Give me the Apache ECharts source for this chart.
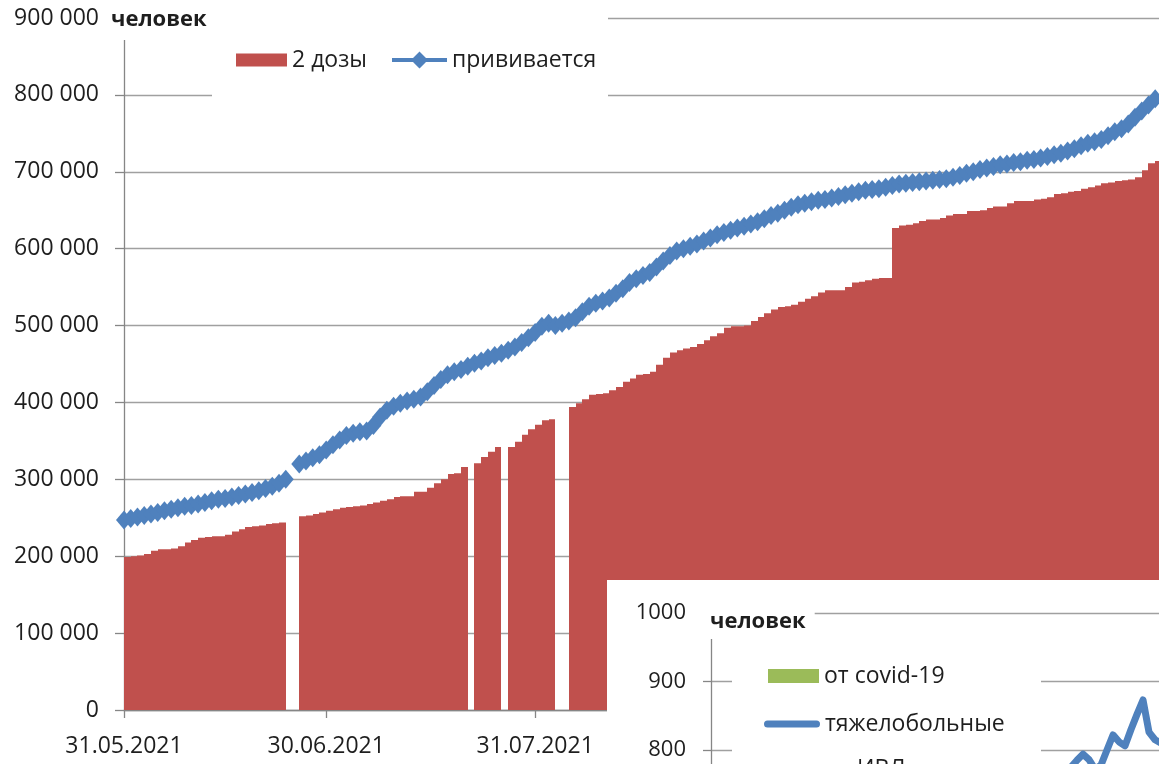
<!DOCTYPE html>
<html>
<head>
<meta charset="utf-8">
<title>Вакцинация и тяжелобольные</title>
<script src="https://cdn.jsdelivr.net/npm/echarts@6/dist/echarts.min.js"></script>
<style>
  html, body { margin: 0; padding: 0; background: #ffffff; }
  #chart { width: 1159px; height: 764px; }
</style>
</head>
<body>
<div id="chart"></div>
<script>
// ---- Main chart: daily counts starting 31.05.2021 (index 0) ----
const startLabel = '31.05.2021';

// "2 дозы" — people with both doses; null = no report that day
const twoDoses = [
  199000, 200000, 201000, 203000, 207000, 209000, 209000, 210000, 213000, 218000,
  221000, 224000, 225000, 226000, 226000, 228000, 232000, 235000, 238000, 239000,
  240000, 242000, 243000, 244000, null,   null,   252000, 253000, 255000, 257000,
  259000, 261000, 263000, 264000, 265000, 266000, 268000, 270000, 272000, 274000,
  277000, 278000, 278000, 284000, 284000, 289000, 295000, 300000, 307000, 308000,
  316000, null,   321000, 329000, 336000, 342000, null,   342000, 349000, 358000,
  365000, 371000, 377000, 378000, null,   null,   394000, 399000, 404000, 410000,
  411000, 412000, 416000, 420000, 427000, 431000, 436000, 437000, 440000, 449000,
  458000, 465000, 468000, 470000, 472000, 476000, 481000, 486000, 490000, 497000,
  499000, 499000, 500000, 506000, 511000, 516000, 521000, 524000, 525000, 527000,
  531000, 535000, 538000, 543000, 546000, 546000, 546000, 550000, 556000, 557000,
  559000, 561000, 562000, 562000, 627000, 630000, 631000, 633000, 636000, 638000,
  638000, 640000, 643000, 645000, 645000, 649000, 649000, 650000, 653000, 655000,
  655000, 659000, 662000, 662000, 662000, 664000, 665000, 667000, 671000, 672000,
  674000, 675000, 678000, 680000, 682000, 685000, 686000, 688000, 689000, 690000,
  693000, 702000, 711000, 714000
];

// "прививается" — people in the vaccination process
const vaccinating = [
  247000, 249000, 251000, 253000, 255000, 257000, 259000, 261000, 263000, 265000,
  266000, 268000, 270000, 272000, 274000, 275000, 277000, 279000, 281000, 283000,
  285000, 288000, 291000, 295000, 300000, null,   320000, 324000, 328000, 332000,
  338000, 345000, 351000, 357000, 360000, 362000, 363000, 370000, 381000, 390000,
  395000, 399000, 402000, 404000, 407000, 414000, 422000, 430000, 436000, 440000,
  443000, 447000, 451000, 454000, 458000, 461000, 464000, 468000, 472000, 478000,
  484000, 491000, 499000, 503000, 500000, 503000, 506000, 510000, 518000, 525000,
  529000, 532000, 536000, 542000, 548000, 556000, 561000, 565000, 569000, 576000,
  584000, 591000, 597000, 600000, 603000, 606000, 610000, 614000, 618000, 621000,
  624000, 627000, 629000, 632000, 635000, 639000, 643000, 646000, 650000, 654000,
  657000, 659000, 661000, 663000, 664000, 666000, 668000, 670000, 672000, 674000,
  676000, 677000, 678000, 680000, 682000, 684000, 685000, 686000, 687000, 688000,
  689000, 690000, 691000, 693000, 695000, 698000, 700000, 703000, 705000, 707000,
  709000, 710000, 712000, 713000, 715000, 716000, 718000, 720000, 722000, 724000,
  727000, 730000, 734000, 737000, 739000, 742000, 747000, 752000, 756000, 762000,
  771000, 779000, 787000, 795000
];

// Month-end tick labels on the date axis
const tickLabels = ['31.05.2021', '30.06.2021', '31.07.2021', '31.08.2021', '30.09.2021', '31.10.2021'];

// ---- Inset chart: severe patients (position index on its own day axis) ----
const insetDays = [60, 61, 62, 63, 64, 65, 66, 67, 68, 69, 70, 71, 72, 73, 74, 75];
const severeCases = [775, 785, 794, 786, 772, 778, 800, 822, 812, 806, 830, 852, 873, 826, 815, 810];

// ---- helpers ----
function parseDay(label) {
  const [d, m, y] = label.split('.').map(Number);
  return Date.UTC(y, m - 1, d);
}
const t0 = parseDay(startLabel);
const dayIndex = label => Math.round((parseDay(label) - t0) / 86400000);
const tickDays = tickLabels.map(dayIndex);

const thousands = v => String(v).replace(/\B(?=(\d{3})+(?!\d))/g, ' ');

const barData = [];
twoDoses.forEach((v, i) => { if (v != null) barData.push([i, v]); });
const lineData = vaccinating.map((v, i) => [i, v == null ? '-' : v]);
const severeData = insetDays.map((d, i) => [d, severeCases[i]]);

// ---- styling ----
const FONT = '"Open Sans", "Noto Sans", sans-serif';
const TEXT = '#1e1e1e';
const AXIS = '#868686';
const GRIDC = '#a0a0a0';
const RED = '#C0504D', BLUE = '#4F81BD', GREEN = '#9BBB59';

// legend icons: line with a diamond marker, and a thick round-capped line
const ICON_LINE_DIAMOND = 'path://M0,6.5L21,6.5L27.5,0L34,6.5L55,6.5L55,10.5L34,10.5L27.5,17L21,10.5L0,10.5Z';
const ICON_CAPSULE = 'path://M3.5,0L52.5,0A3.5,3.5,0,0,1,52.5,7L3.5,7A3.5,3.5,0,0,1,3.5,0Z';

const legendText = { fontFamily: FONT, fontSize: 23, lineHeight: 28, color: TEXT };

function legendItem(name, icon, left, centerY, w, h, extra) {
  return Object.assign({
    left: left, top: centerY - 14, orient: 'horizontal', padding: 0,
    itemWidth: w, itemHeight: h, selectedMode: false,
    textStyle: legendText,
    data: [{ name: name, icon: icon }],
    z: 6
  }, extra || {});
}

const chart = echarts.init(document.getElementById('chart'), null, { renderer: 'canvas' });

const option = {
  animation: false,
  backgroundColor: '#ffffff',
  title: [
    {
      text: 'человек', left: 104, top: 0,
      padding: [8, 8, 8, 7], backgroundColor: '#ffffff',
      textStyle: { fontFamily: FONT, fontWeight: 'bold', fontSize: 22, lineHeight: 24, color: TEXT },
      z: 6
    },
    {
      text: 'человек', left: 700, top: 590,
      padding: [20, 9, 5, 10], backgroundColor: '#ffffff',
      textStyle: { fontFamily: FONT, fontWeight: 'bold', fontSize: 22, lineHeight: 24, color: TEXT },
      zlevel: 1, z: 6
    }
  ],
  legend: [
    legendItem('2 дозы', 'rect', 236, 60, 51, 13),
    legendItem('прививается', ICON_LINE_DIAMOND, 392, 60, 55, 17),
    legendItem('от covid-19', 'rect', 768, 676, 51, 14, { zlevel: 1 }),
    legendItem('тяжелобольные', ICON_CAPSULE, 764, 724, 56, 7, { zlevel: 1 }),
    legendItem('ИВЛ', 'rect', 801, 769, 51, 4, { zlevel: 1 })
  ],
  graphic: {
    elements: [
      // legend panel of the main chart
      { type: 'rect', silent: true, zlevel: 0, z: 5,
        shape: { x: 212, y: 0, width: 396, height: 98 }, style: { fill: '#ffffff' } },
      // inset chart area
      { type: 'rect', silent: true, zlevel: 1, z: 0,
        shape: { x: 607, y: 580, width: 560, height: 190 }, style: { fill: '#ffffff' } },
      // legend panel of the inset chart
      { type: 'rect', silent: true, zlevel: 1, z: 5,
        shape: { x: 732, y: 650, width: 309, height: 120 }, style: { fill: '#ffffff' } }
    ]
  },
  grid: [
    { left: 124, top: 18, width: 160 * 6.74, height: 692, containLabel: false, outerBoundsMode: 'none' },
    { left: 711, top: 613, width: 480, height: 342.5, containLabel: false, outerBoundsMode: 'none', zlevel: 1 }
  ],
  xAxis: [
    {
      type: 'value', gridIndex: 0, min: 0, max: 160,
      axisLine: { show: true, lineStyle: { color: AXIS, width: 1.3 } },
      axisTick: { show: true, customValues: tickDays, length: 8, lineStyle: { color: AXIS, width: 1.3 } },
      axisLabel: {
        show: true, customValues: tickDays, margin: 25,
        fontFamily: FONT, fontSize: 23, color: TEXT,
        formatter: v => tickLabels[tickDays.indexOf(v)] || ''
      },
      splitLine: { show: false }
    },
    {
      type: 'value', gridIndex: 1, min: 0, max: 80, show: false, zlevel: 1
    }
  ],
  yAxis: [
    {
      type: 'value', gridIndex: 0, min: 0, max: 900000, interval: 100000,
      axisLine: { show: true, lineStyle: { color: AXIS, width: 1.3 } },
      axisTick: { show: true, length: 9, lineStyle: { color: AXIS, width: 1.3 } },
      axisLabel: { margin: 25, fontFamily: FONT, fontSize: 23, color: TEXT, formatter: thousands },
      splitLine: { show: true, lineStyle: { color: GRIDC, width: 1.3 } }
    },
    {
      type: 'value', gridIndex: 1, min: 500, max: 1000, interval: 100,
      zlevel: 1, z: 1,
      axisLine: { show: true, lineStyle: { color: AXIS, width: 1.3 } },
      axisTick: { show: true, length: 8, lineStyle: { color: AXIS, width: 1.3 } },
      axisLabel: { margin: 25, fontFamily: FONT, fontSize: 22, color: TEXT, formatter: v => String(v) },
      splitLine: { show: true, lineStyle: { color: GRIDC, width: 1.3 } }
    }
  ],
  series: [
    {
      name: '2 дозы', type: 'custom', xAxisIndex: 0, yAxisIndex: 0,
      data: barData, encode: { x: 0, y: 1 },
      itemStyle: { color: RED },
      renderItem: function (params, api) {
        const d = api.value(0), v = api.value(1);
        const top = api.coord([d, v]);
        const base = api.coord([d + 1, 0]);
        const x0 = Math.round(top[0]), x1 = Math.round(base[0]);
        return {
          type: 'rect',
          shape: { x: x0, y: top[1], width: x1 - x0, height: base[1] - top[1] },
          style: { fill: RED }
        };
      },
      z: 2
    },
    {
      name: 'прививается', type: 'line', xAxisIndex: 0, yAxisIndex: 0,
      data: lineData, connectNulls: false,
      symbol: 'diamond', symbolSize: [16, 19], showAllSymbol: true,
      lineStyle: { color: BLUE, width: 4 },
      itemStyle: { color: BLUE, borderWidth: 0 },
      z: 3
    },
    {
      name: 'от covid-19', type: 'bar', xAxisIndex: 1, yAxisIndex: 1,
      data: [], itemStyle: { color: GREEN }, zlevel: 1, z: 2
    },
    {
      name: 'тяжелобольные', type: 'line', xAxisIndex: 1, yAxisIndex: 1,
      data: severeData, symbol: 'none',
      lineStyle: { color: BLUE, width: 7, cap: 'round', join: 'round' },
      itemStyle: { color: BLUE },
      zlevel: 1, z: 3
    },
    {
      name: 'ИВЛ', type: 'line', xAxisIndex: 1, yAxisIndex: 1,
      data: [], symbol: 'none',
      lineStyle: { color: RED, width: 7 }, itemStyle: { color: RED },
      zlevel: 1, z: 3
    }
  ]
};

chart.setOption(option);
</script>
</body>
</html>
